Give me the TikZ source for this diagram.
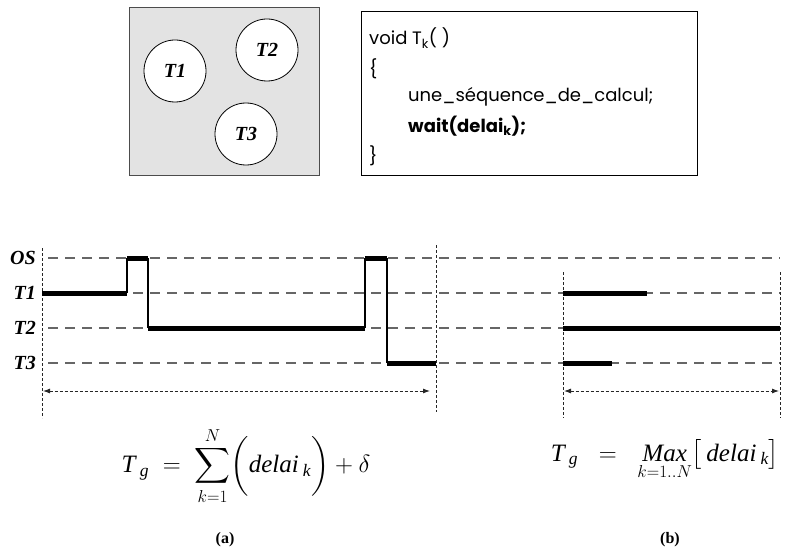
\documentclass[tikz,border=0pt]{standalone}
\usepackage{amsmath}
\usepackage{fontspec}
\setmainfont{Liberation Serif}
\newfontfamily\codefont{Poppins}
\usetikzlibrary{arrows.meta}
\tikzset{
  lane/.style={black!60, line width=1.1pt, dash pattern=on 10pt off 7pt},
  bound/.style={black!85, line width=0.9pt, dash pattern=on 3pt off 2pt},
  busy/.style={line width=5pt},
  switch/.style={line width=1.1pt},
  span/.style={bound, {Latex[length=7pt,width=5pt]}-{Latex[length=7pt,width=5pt]}},
  lanelabel/.style={anchor=east, inner sep=0pt, font=\fontsize{20}{20}\selectfont\bfseries\itshape},
  task/.style={circle, draw, fill=white, line width=0.8pt, minimum size=62pt, inner sep=0pt,
    font=\fontsize{20}{20}\selectfont\bfseries\itshape},
  codeline/.style={anchor=west, inner sep=0pt, font=\codefont\fontsize{18}{18}\selectfont},
  formula/.style={inner sep=0pt, font=\fontsize{25}{25}\selectfont},
  caption/.style={inner sep=0pt, font=\fontsize{16}{16}\selectfont\bfseries}
}
\begin{document}
\begin{tikzpicture}[x=1pt,y=-1pt]
    \useasboundingbox (0,0) rectangle (786,556);
    % tasks
    \draw[fill=black!11, draw=black!70, line width=1pt] (129,8) rectangle (319,175);
    \node[task] (t1) at (175,71) {T1};
    \node[task] (t2) at (267,50) {T2};
    \node[task] (t3) at (246,134) {T3};
    % code of one task
    \draw[line width=0.9pt] (361,11) rectangle (697,175);
    \node[codeline] (head) at (369,38) {void T\textsubscript{k}( )};
    \node[codeline] (open) at (369,69) {\{};
    \node[codeline] (calc) at (408,97) {une\_séquence\_de\_calcul;};
    \node[codeline] (wait) at (408,126) {\textbf{wait(delai\textsubscript{k});}};
    \node[codeline] (close) at (369,156) {\}};
    % lanes
    \foreach \name/\y in {OS/258, T1/293, T2/328, T3/363}
    { \node[lanelabel] (l\name) at (36,\y) {\name};
      \draw[lane] (48,\y) -- (780,\y); }
    \draw[bound] (42,248) -- (42,418);
    \draw[bound] (436,245) -- (436,412);
    \draw[bound] (563,272) -- (563,418);
    \draw[bound] (780,272) -- (780,418);
    % (a) one processor
    \draw[busy] (42,293) -- (127,293);
    \draw[switch] (127,293) -- (127,258);
    \draw[busy] (127,258) -- (148,258);
    \draw[switch] (148,258) -- (148,328);
    \draw[busy] (148,328) -- (365,328);
    \draw[switch] (365,328) -- (365,258);
    \draw[busy] (365,258) -- (387,258);
    \draw[switch] (387,258) -- (387,363);
    \draw[busy] (387,363) -- (436,363);
    \draw[span] (43,391) -- (430,391);
    % (b) in parallel
    \draw[busy] (563,293) -- (647,293);
    \draw[busy] (563,328) -- (780,328);
    \draw[busy] (563,363) -- (612,363);
    \draw[span] (564,391) -- (779,391);
    % formulas
    \node[formula] (suma) at (246,466)
      {$\mathit{T}\,{}_{\mathit{g}}\;=\;\displaystyle\sum_{k=1}^{N}\biggl(\mathit{delai}\,{}_{\mathit{k}}\biggr)+\delta$};
    \node[formula] (maxb) at (665,460)
      {$\mathit{T}\,{}_{\mathit{g}}\;\;=\;\;\mathop{\mathit{Max}}\limits_{\rule{0pt}{9pt}k=1..N}\bigl[\,\mathit{delai}\,{}_{\mathit{k}}\bigr]$};
    \node[caption] (capa) at (225,540) {(a)};
    \node[caption] (capb) at (670,540) {(b)};
\end{tikzpicture}
\end{document}
